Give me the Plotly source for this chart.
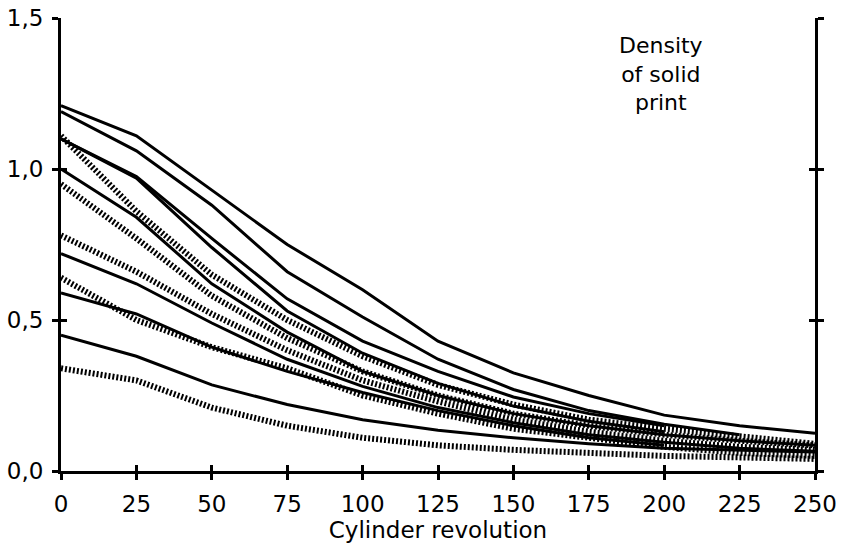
import plotly.graph_objects as go

revs = [0, 25, 50, 75, 100, 125, 150, 175, 200, 225, 250]

# solid lines
solid_1 = [1.21, 1.11, 0.93, 0.75, 0.60, 0.43, 0.325, 0.25, 0.185, 0.15, 0.125]
solid_2 = [1.19, 1.06, 0.88, 0.66, 0.51, 0.37, 0.27, 0.20, 0.155, 0.12]
solid_3 = [1.10, 0.975, 0.77, 0.57, 0.43, 0.33, 0.245, 0.19, 0.15]
solid_4 = [1.10, 0.97, 0.74, 0.53, 0.39, 0.29, 0.215, 0.165, 0.13]
solid_5 = [1.00, 0.84, 0.62, 0.46, 0.33, 0.25, 0.19, 0.15, 0.12, 0.10, 0.085]
solid_6 = [0.72, 0.62, 0.49, 0.37, 0.28, 0.21, 0.16, 0.12, 0.095, 0.075, 0.065]
solid_7 = [0.59, 0.52, 0.41, 0.33, 0.26, 0.20, 0.15, 0.11, 0.085]
solid_8 = [0.45, 0.38, 0.285, 0.22, 0.17, 0.135, 0.11, 0.09, 0.075, 0.068, 0.063]

# hatched lines
hatch_1 = [1.11, 0.86, 0.65, 0.50, 0.38, 0.285, 0.22, 0.17, 0.14, 0.115, 0.09]
hatch_2 = [0.95, 0.77, 0.58, 0.44, 0.33, 0.25, 0.19, 0.15, 0.12, 0.10, 0.085]
hatch_3 = [0.78, 0.66, 0.52, 0.40, 0.30, 0.23, 0.17, 0.13, 0.10, 0.08, 0.07]
hatch_4 = [0.64, 0.50, 0.41, 0.34, 0.25, 0.19, 0.14, 0.11, 0.08, 0.06, 0.05]
hatch_5 = [0.34, 0.30, 0.21, 0.15, 0.11, 0.085, 0.07, 0.06, 0.05, 0.045, 0.04]

x_ticks = [0, 25, 50, 75, 100, 125, 150, 175, 200, 225, 250]
y_ticks = [0.0, 0.5, 1.0, 1.5]
y_tick_text = ["0,0", "0,5", "1,0", "1,5"]

FONT = "DejaVu Sans, Liberation Sans, Arial, sans-serif"
FS = 23

fig = go.Figure()

for ys in [hatch_1, hatch_2, hatch_3, hatch_4, hatch_5]:
    fig.add_trace(go.Scatter(
        x=revs[:len(ys)], y=ys, mode="lines",
        line=dict(color="black", width=6, dash="2px,2px"),
        showlegend=False, hoverinfo="skip"))

for ys in [solid_1, solid_2, solid_3, solid_4, solid_5, solid_6, solid_7, solid_8]:
    fig.add_trace(go.Scatter(
        x=revs[:len(ys)], y=ys, mode="lines",
        line=dict(color="black", width=3),
        showlegend=False, hoverinfo="skip"))

# invisible trace on overlay axes so that their inside ticks render
fig.add_trace(go.Scatter(x=[0], y=[0], xaxis="x2", yaxis="y2", mode="markers",
                         marker=dict(opacity=0), showlegend=False, hoverinfo="skip"))

plot_w = 843 - 61 - 28
plot_h = 551 - 18 - 80

fig.update_layout(
    width=843, height=551,
    margin=dict(l=61, r=28, t=18, b=80, autoexpand=False),
    paper_bgcolor="white", plot_bgcolor="white",
    font=dict(family=FONT, size=FS, color="black"),
    xaxis=dict(
        range=[0, 250], tickvals=x_ticks, ticks="outside", ticklen=6,
        tickwidth=2.5, tickcolor="black", showline=True, linewidth=3,
        linecolor="black", showgrid=False, zeroline=False, automargin=False,
        ticklabelstandoff=4, tickfont=dict(size=FS),
        title=dict(text="Cylinder revolution", font=dict(size=FS), standoff=2),
    ),
    yaxis=dict(
        range=[0, 1.5], tickvals=y_ticks, ticktext=y_tick_text,
        ticks="outside", ticklen=6, tickwidth=2.5, tickcolor="black",
        showline=True, linewidth=3, linecolor="black", mirror="ticks",
        showgrid=False, zeroline=False, ticklabelstandoff=4, automargin=False,
        tickfont=dict(size=FS),
    ),
    xaxis2=dict(
        overlaying="x", matches="x", range=[0, 250], tickvals=x_ticks,
        ticks="inside", ticklen=6, tickwidth=2.5, tickcolor="black",
        showticklabels=False, showline=False, showgrid=False, zeroline=False,
        side="bottom", automargin=False,
    ),
    yaxis2=dict(
        overlaying="y", matches="y", range=[0, 1.5], tickvals=y_ticks,
        ticks="inside", ticklen=6, tickwidth=2.5, tickcolor="black",
        mirror="ticks", showticklabels=False, showline=False,
        showgrid=False, zeroline=False, side="left", automargin=False,
    ),
    annotations=[dict(
        text="Density<br>of solid<br>print",
        x=(661 - 61) / plot_w, y=(471 - 74) / plot_h,
        xref="paper", yref="paper", xanchor="center", yanchor="middle",
        showarrow=False, font=dict(size=FS - 1), align="center")],
)

fig.write_html("out.html")
